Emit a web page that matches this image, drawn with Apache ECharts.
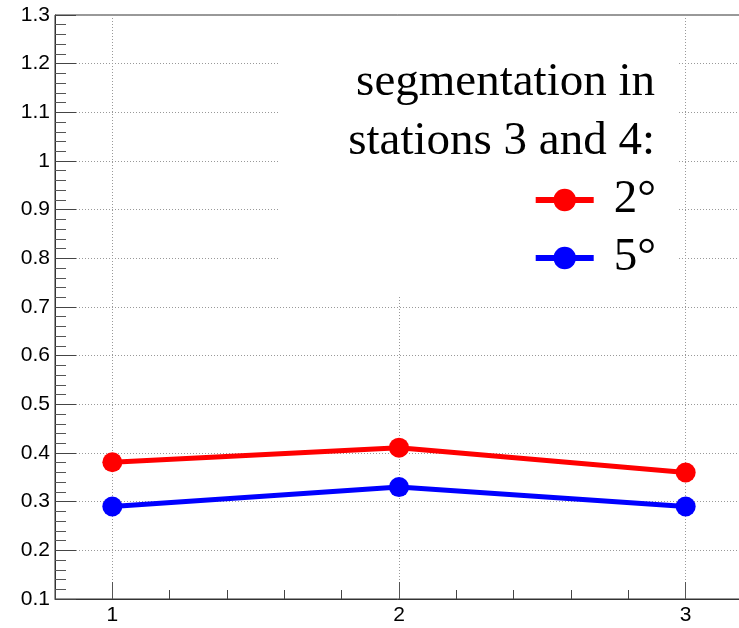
<!DOCTYPE html>
<html>
<head>
<meta charset="utf-8">
<script src="https://cdn.jsdelivr.net/npm/echarts@6/dist/echarts.min.js"></script>
<style>
html,body{margin:0;padding:0;background:#fff;}
#chart{width:739px;height:628px;}
</style>
</head>
<body>
<div id="chart"></div>
<script>
const xValues = [1, 2, 3];
const xTickLabels = [1, 2, 3];
const series2deg = [0.381, 0.411, 0.360];
const series5deg = [0.290, 0.330, 0.290];
const seriesNames = ['2°', '5°'];
const legendTitle = ['segmentation in', 'stations 3 and 4:'];

const chart = echarts.init(document.getElementById('chart'), null, {renderer: 'canvas'});

function pairs(ys) { return xValues.map((x, i) => [x, ys[i]]); }

const sansFont = 'Liberation Sans';
const serifFont = 'Liberation Serif';

const option = {
  animation: false,
  backgroundColor: '#fff',
  grid: {left: 55, width: 688, top: 15, bottom: 29, outerBoundsMode: 'none', containLabel: false, show: true, borderColor: '#333', borderWidth: 1, backgroundColor: 'transparent'},
  xAxis: [
    {
      type: 'value', min: 0.8, max: 3.2, interval: 0.2,
      axisLine: {show: true, lineStyle: {color: '#333', width: 1}},
      axisTick: {show: true, inside: true, length: 9, lineStyle: {color: '#444', width: 1}},
      axisLabel: {show: false},
      splitLine: {show: false}
    },
    {
      type: 'value', min: 0.8, max: 3.2, position: 'bottom',
      axisLine: {show: false},
      axisTick: {show: true, inside: true, length: 17, customValues: xTickLabels, lineStyle: {color: '#555', width: 1}},
      axisLabel: {show: true, customValues: xTickLabels, margin: 6, fontFamily: sansFont, fontSize: 21, color: '#000'},
      splitLine: {show: true, lineStyle: {color: '#999', type: [1, 2], width: 1}}
    }
  ],
  yAxis: {
    type: 'value', min: 0.1, max: 1.3, interval: 0.1,
    axisLine: {show: true, lineStyle: {color: '#333', width: 1}},
    axisTick: {show: true, inside: true, length: 21, lineStyle: {color: '#444', width: 1}},
    minorTick: {show: true, splitNumber: 5, length: 11, lineStyle: {color: '#555', width: 1}},
    axisLabel: {margin: 5, fontFamily: sansFont, fontSize: 21, color: '#000'},
    splitLine: {show: true, lineStyle: {color: '#999', type: [1, 2], width: 1}}
  },
  legend: {
    orient: 'vertical',
    right: 78,
    top: 166,
    itemGap: 0,
    itemWidth: 58,
    itemHeight: 28,
    data: seriesNames,
    textStyle: {fontFamily: serifFont, fontSize: 47, color: '#000', lineHeight: 58, padding: [0, 0, 0, 15]},
    lineStyle: {width: 6}
  },
  graphic: [
    {type: 'rect', z: 1, shape: {x: 280, y: 16, width: 399, height: 279}, style: {fill: '#fff'}, silent: true},
    {type: 'text', z: 2, x: 655, y: 83, style: {text: legendTitle[0], font: '47px "Liberation Serif"', fill: '#000', align: 'right', verticalAlign: 'middle'}},
    {type: 'text', z: 2, x: 655, y: 142, style: {text: legendTitle[1], font: '47px "Liberation Serif"', fill: '#000', align: 'right', verticalAlign: 'middle'}}
  ],
  series: [
    {
      name: seriesNames[0], type: 'line', xAxisIndex: 1, data: pairs(series2deg),
      symbol: 'circle', symbolSize: 20,
      lineStyle: {color: '#ff0000', width: 5}, itemStyle: {color: '#ff0000'}, z: 5
    },
    {
      name: seriesNames[1], type: 'line', xAxisIndex: 1, data: pairs(series5deg),
      symbol: 'circle', symbolSize: 20,
      lineStyle: {color: '#0000ff', width: 5}, itemStyle: {color: '#0000ff'}, z: 5
    }
  ]
};
chart.setOption(option);
</script>
</body>
</html>
